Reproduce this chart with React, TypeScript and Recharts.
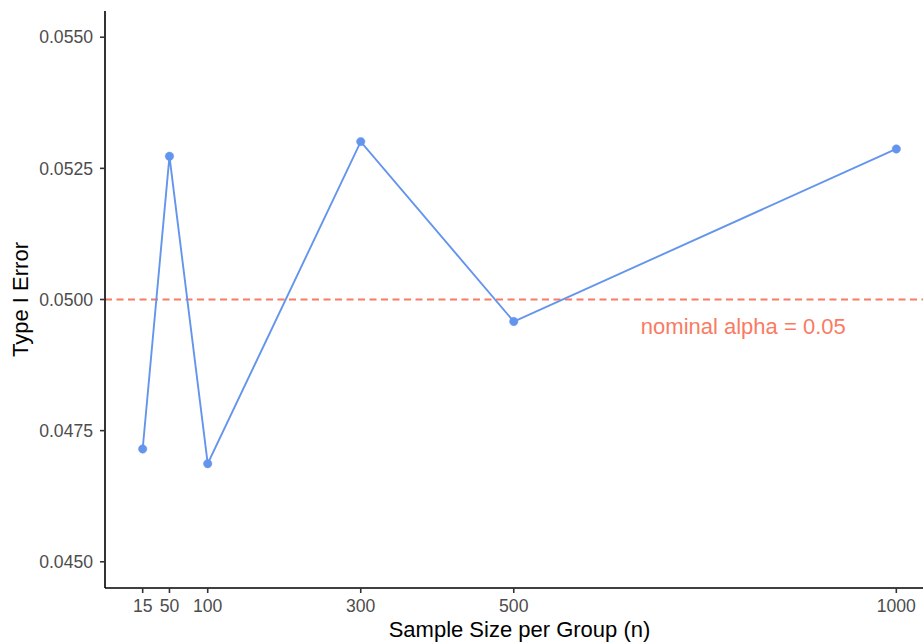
import React from 'react';
import { LineChart, Line, XAxis, YAxis, ReferenceLine, ReferenceDot } from 'recharts';

const sampleSizes = [15, 50, 100, 300, 500, 1000];
const typeIErrors = [0.04715, 0.05273, 0.04687, 0.05301, 0.04958, 0.05287];
const xTicks = [15, 50, 100, 300, 500, 1000];
const yTicks = [0.045, 0.0475, 0.05, 0.0525, 0.055];
const nominalAlpha = 0.05;
const annotation = { x: 800, y: 0.0495, text: 'nominal alpha = 0.05' };

const data = sampleSizes.map((n, i) => ({ n, err: typeIErrors[i] }));

const FONT = '"Liberation Sans", Arial, Helvetica, sans-serif';
const LINE_COLOR = '#6495ED';
const ALPHA_COLOR = '#F97B63';

export default function App() {
  return (
    <div style={{ position: 'absolute', left: 0, top: 0, width: 923, height: 643, overflow: 'hidden', background: '#fff' }}>
      <LineChart
        width={940}
        height={643}
        data={data}
        margin={{ top: 11, right: 6, bottom: 0, left: 0 }}
        style={{ fontFamily: FONT }}
      >
        <XAxis
          dataKey="n"
          type="number"
          domain={[-34.25, 1049.25]}
          ticks={xTicks}
          allowDataOverflow
          height={55}
          tickSize={5}
          tickMargin={7}
          tick={{ fill: '#4D4D4D', fontSize: 17.6, fontFamily: FONT }}
          axisLine={{ stroke: '#000', strokeWidth: 1.6 }}
          tickLine={{ stroke: '#333', strokeWidth: 1.6 }}
          label={{ value: 'Sample Size per Group (n)', position: 'insideBottom', offset: 6, fill: '#000', fontSize: 22, fontFamily: FONT }}
        />
        <YAxis
          type="number"
          domain={[0.0445, 0.0555]}
          ticks={yTicks}
          allowDataOverflow
          width={105}
          tickSize={5}
          tickMargin={7}
          tickFormatter={(v: number) => v.toFixed(4)}
          tick={{ fill: '#4D4D4D', fontSize: 17.6, fontFamily: FONT }}
          axisLine={{ stroke: '#000', strokeWidth: 1.6 }}
          tickLine={{ stroke: '#333', strokeWidth: 1.6 }}
          label={{ value: 'Type I Error', angle: -90, position: 'insideLeft', offset: 20, fill: '#000', fontSize: 22, fontFamily: FONT, style: { textAnchor: 'middle' } }}
        />
        <ReferenceLine y={nominalAlpha} stroke={ALPHA_COLOR} strokeWidth={2} strokeDasharray="7 4.5" />
        <ReferenceDot
          x={annotation.x}
          y={annotation.y}
          r={0}
          fill="none"
          stroke="none"
          label={{ value: annotation.text, position: 'center', fill: ALPHA_COLOR, fontSize: 22, fontFamily: FONT }}
        />
        <Line
          type="linear"
          dataKey="err"
          stroke={LINE_COLOR}
          strokeWidth={1.9}
          dot={{ r: 4.2, fill: LINE_COLOR, stroke: LINE_COLOR, strokeWidth: 0.5 }}
          activeDot={false}
          isAnimationActive={false}
        />
      </LineChart>
    </div>
  );
}
